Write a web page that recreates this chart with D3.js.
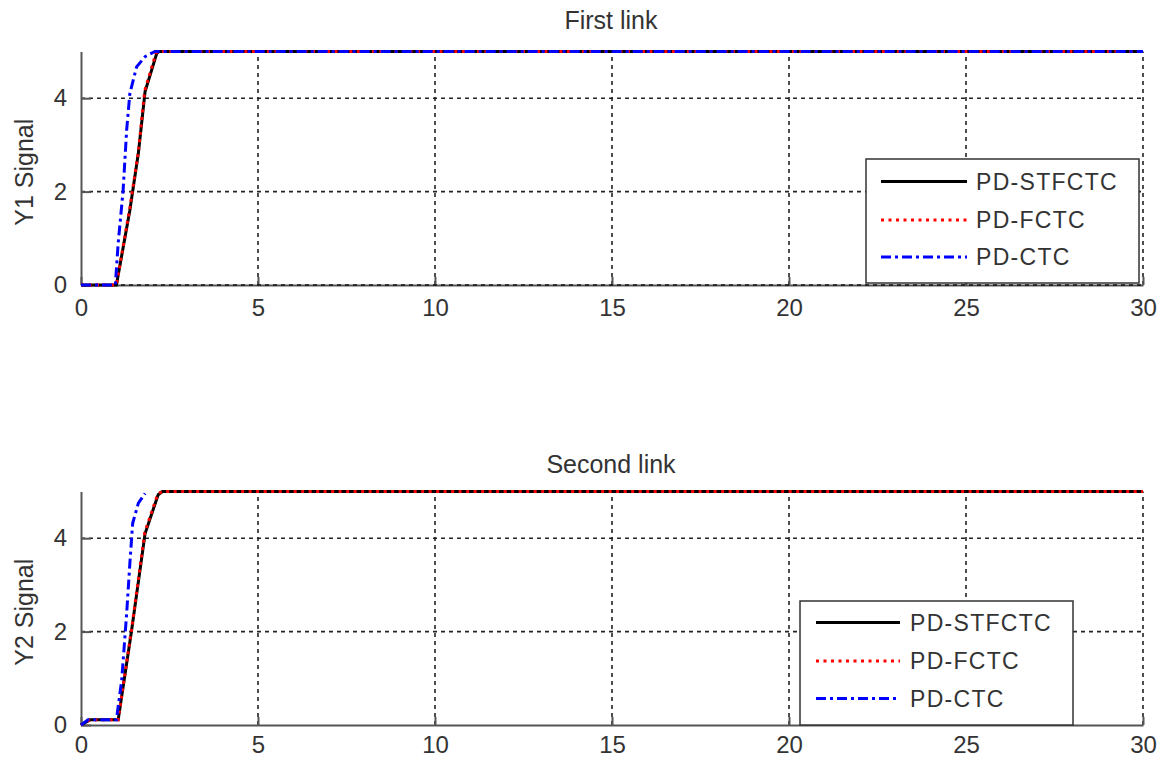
<!DOCTYPE html>
<html>
<head>
<meta charset="utf-8">
<script src="https://cdn.jsdelivr.net/npm/d3@7"></script>
<style>
  body { margin: 0; background: #fff; }
  svg { display: block; font-family: "Liberation Sans", Arial, sans-serif; }
  .axis path, .axis line { stroke: #555; stroke-width: 2; }
  .axis text { fill: #333; font-size: 24px; font-family: "Liberation Sans", Arial, sans-serif; }
  .grid line { stroke: #222; stroke-width: 1.6; stroke-dasharray: 4,4; }
  .title, .ylab { fill: #333; font-size: 25px; }
  .legend text { fill: #333; font-size: 23px; letter-spacing: 1.3px; }
</style>
</head>
<body>
<svg width="1163" height="763"></svg>
<script>
// ticks
var xTicks = [0, 5, 10, 15, 20, 25, 30];
var yTicks = [0, 2, 4];
var seriesNames = ['PD-STFCTC', 'PD-FCTC', 'PD-CTC'];

// first link
var t1Stf = [0, 1.0, 1.38, 1.62, 1.81, 2.14, 2.2, 30];
var y1Stf = [0, 0, 1.6, 2.82, 4.14, 4.96, 5, 5];
var t1F = [0, 1.0, 1.38, 1.62, 1.8, 2.12, 2.2, 30];
var y1F = [0, 0, 1.65, 2.85, 4.16, 4.97, 5, 5];
var t1Ctc = [0, 0.97, 1.05, 1.19, 1.29, 1.38, 1.57, 1.81, 2.09, 30];
var y1Ctc = [0, 0, 0.89, 2.03, 3.32, 4.1, 4.67, 4.89, 5, 5];

// second link
var t2Stf = [0, 0.25, 1.05, 1.43, 1.81, 2.18, 2.3, 30];
var y2Stf = [0, 0.11, 0.11, 2.03, 4.1, 4.93, 5, 5];
var t2F = [0, 0.25, 1.05, 1.43, 1.8, 2.17, 2.3, 30];
var y2F = [0, 0.11, 0.11, 2.06, 4.12, 4.95, 5, 5];
var t2Ctc = [0, 0.2, 1.0, 1.15, 1.29, 1.38, 1.46, 1.62, 1.81];
var y2Ctc = [0, 0.11, 0.11, 0.96, 2.39, 3.46, 4.32, 4.75, 4.96];

var svg = d3.select('svg');
var x = d3.scaleLinear().domain([0, 30]).range([81, 1143]);

var styles = [
  { color: '#000', dash: null, width: 3 },
  { color: '#f00', dash: '3,4.5', width: 3 },
  { color: '#00f', dash: '10,4,3,4', width: 3 }
];

var panels = [
  { title: 'First link', ylab: 'Y1 Signal', y0: 285, y5: 51.5, titleY: 29, grid0: true, xPad: 14,
    series: [[t1Stf, y1Stf], [t1F, y1F], [t1Ctc, y1Ctc]],
    legend: { x: 866, y: 159, w: 273, h: 124, rows: [22.5, 61, 98], lx1: 15, lx2: 101, tx: 110 } },
  { title: 'Second link', ylab: 'Y2 Signal', y0: 725, y5: 491.5, titleY: 473, grid0: false, xPad: 11,
    series: [[t2Stf, y2Stf], [t2F, y2F], [t2Ctc, y2Ctc]],
    legend: { x: 800, y: 601, w: 273, h: 124, rows: [21.5, 60, 97.5], lx1: 16, lx2: 100, tx: 110 } }
];

panels.forEach(function(p) {
  var y = d3.scaleLinear().domain([0, 5]).range([p.y0, p.y5]);
  var g = svg.append('g');

  // grid
  var grid = g.append('g').attr('class', 'grid');
  grid.selectAll('.gx').data(xTicks.slice(1)).enter().append('line')
    .attr('x1', function(d) { return x(d); }).attr('x2', function(d) { return x(d); })
    .attr('y1', y(0)).attr('y2', y(5));
  grid.selectAll('.gy').data(yTicks.filter(function(d) { return d > 0; })).enter().append('line')
    .attr('x1', x(0)).attr('x2', x(30))
    .attr('y1', function(d) { return y(d); }).attr('y2', function(d) { return y(d); });

  // axes
  var xAxis = d3.axisBottom(x).tickValues(xTicks).tickFormat(d3.format('d'))
    .tickSizeInner(-8).tickSizeOuter(0).tickPadding(p.xPad);
  var yAxis = d3.axisLeft(y).tickValues(yTicks).tickFormat(d3.format('d'))
    .tickSizeInner(-10).tickSizeOuter(0).tickPadding(14);
  g.append('g').attr('class', 'axis').attr('transform', 'translate(0,' + y(0) + ')').call(xAxis);
  g.append('g').attr('class', 'axis').attr('transform', 'translate(' + x(0) + ',0)').call(yAxis);
  if (p.grid0) {
    g.append('line').attr('x1', x(0)).attr('x2', x(30)).attr('y1', y(0)).attr('y2', y(0))
      .style('stroke', '#111').style('stroke-width', 1.6).style('stroke-dasharray', '4,4');
  }

  // title and label
  g.append('text').attr('class', 'title').attr('x', 611).attr('y', p.titleY)
    .attr('text-anchor', 'middle').text(p.title);
  g.append('text').attr('class', 'ylab')
    .attr('transform', 'translate(33,' + ((p.y0 + p.y5) / 2 + 4) + ') rotate(-90)')
    .attr('text-anchor', 'middle').text(p.ylab);

  // lines
  var line = d3.line().x(function(d) { return x(d[0]); }).y(function(d) { return y(d[1]); });
  p.series.forEach(function(s, i) {
    var pts = d3.zip(s[0], s[1]);
    g.append('path').datum(pts).attr('d', line)
      .attr('fill', 'none').attr('stroke', styles[i].color)
      .attr('stroke-width', styles[i].width)
      .attr('stroke-dasharray', styles[i].dash);
  });

  // legend
  var L = p.legend;
  var lg = g.append('g').attr('class', 'legend').attr('transform', 'translate(' + L.x + ',' + L.y + ')');
  lg.append('rect').attr('width', L.w).attr('height', L.h)
    .attr('fill', '#fff').attr('stroke', '#333').attr('stroke-width', 1.5);
  seriesNames.forEach(function(n, i) {
    lg.append('line').attr('x1', L.lx1).attr('x2', L.lx2).attr('y1', L.rows[i]).attr('y2', L.rows[i])
      .attr('stroke', styles[i].color).attr('stroke-width', 3).attr('stroke-dasharray', styles[i].dash);
    lg.append('text').attr('x', L.tx).attr('y', L.rows[i]).attr('dy', '0.36em').text(n);
  });
});
</script>
</body>
</html>
